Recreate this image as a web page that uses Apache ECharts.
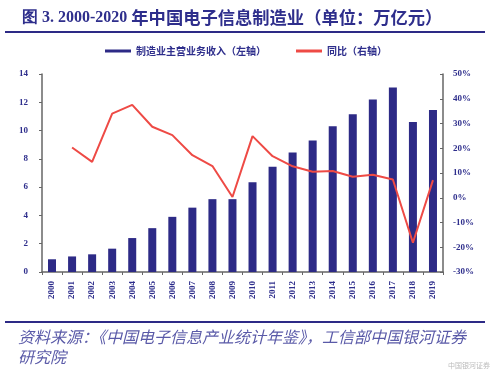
<!DOCTYPE html>
<html>
<head>
<meta charset="utf-8">
<script src="https://cdn.jsdelivr.net/npm/echarts@6/dist/echarts.min.js"></script>
<style>
  html, body { margin: 0; padding: 0; background: #fff; }
  #main { width: 500px; height: 375px; }
</style>
</head>
<body>
<div id="main"></div>
<script>
var years = ['2000', '2001', '2002', '2003', '2004', '2005', '2006', '2007', '2008', '2009',
    '2010', '2011', '2012', '2013', '2014', '2015', '2016', '2017', '2018', '2019'];
// 制造业主营业务收入（万亿元）
var revenue = [0.9, 1.1, 1.25, 1.65, 2.4, 3.1, 3.9, 4.55, 5.15, 5.15,
    6.35, 7.45, 8.45, 9.3, 10.3, 11.15, 12.2, 13.05, 10.6, 11.45];
// 同比（%）
var growth = [null, 20.3, 14.5, 34, 37.5, 28.7, 25.3, 17.2, 12.8, 0.3,
    24.9, 16.8, 12.7, 10.5, 10.8, 8.5, 9.3, 7.4, -18.2, 7.1];
var leftTicks = [0, 14, 2];
var rightTicks = [-30, 50, 10];

var navy = '#2d2a86';
var textColor = '#2e2e8c';
var cjk = '"Noto Sans CJK SC", "Liberation Serif", serif';
var serif = '"Liberation Serif", serif';

var myChart = echarts.init(document.getElementById('main'));
myChart.setOption({
    animation: false,
    textStyle: {fontFamily: cjk},
    title: {
        text: '{a|图 3. 2000-2020 }{b|年中国电子信息制造业（单位：万亿元）}',
        left: 17,
        top: 4,
        textStyle: {
            rich: {
                a: {color: textColor, fontSize: 16, fontWeight: 'bold', fontFamily: serif},
                b: {color: textColor, fontSize: 17.3, fontWeight: 'bold', fontFamily: cjk}
            }
        }
    },
    legend: {
        top: 41,
        left: 100,
        itemGap: 30,
        itemWidth: 26,
        itemHeight: 3,
        textStyle: {color: textColor, fontSize: 10, fontWeight: 'bold'},
        data: [
            {name: '制造业主营业务收入（左轴）', icon: 'rect'},
            {name: '同比（右轴）', icon: 'rect'}
        ]
    },
    graphic: [
        {type: 'line', shape: {x1: 5, y1: 32, x2: 485, y2: 32}, style: {stroke: navy, lineWidth: 2}},
        {type: 'line', shape: {x1: 5, y1: 322, x2: 485, y2: 322}, style: {stroke: navy, lineWidth: 2}},
        {
            type: 'text', left: 18, top: 327,
            style: {
                text: '资料来源：《中国电子信息产业统计年鉴》，工信部中国银河证券\n研究院',
                fill: '#5a5aa8', fontSize: 16, fontStyle: 'italic', lineHeight: 20,
                fontFamily: cjk
            }
        },
        {
            type: 'text', right: 10, top: 362,
            style: {text: '中国银河证券', fill: '#bbbbbb', fontSize: 7, fontFamily: cjk}
        }
    ],
    grid: {left: 42, right: 57, top: 74, bottom: 103},
    xAxis: {
        type: 'category',
        data: years,
        axisLine: {lineStyle: {color: '#666', width: 1.5}},
        axisTick: {show: true, length: 3, lineStyle: {color: '#666'}},
        axisLabel: {
            rotate: 90, interval: 0, color: textColor, fontSize: 9, fontWeight: 'bold',
            margin: 9, fontFamily: serif
        }
    },
    yAxis: [
        {
            type: 'value',
            min: leftTicks[0], max: leftTicks[1], interval: leftTicks[2],
            splitLine: {show: false},
            axisLine: {show: true, lineStyle: {color: '#666', width: 1.5}},
            axisTick: {show: true, length: 3, lineStyle: {color: '#666'}},
            axisLabel: {color: textColor, fontSize: 9, fontWeight: 'bold', margin: 14,
                fontFamily: serif}
        },
        {
            type: 'value',
            min: rightTicks[0], max: rightTicks[1], interval: rightTicks[2],
            splitLine: {show: false},
            axisLine: {show: true, lineStyle: {color: '#666', width: 1.5}},
            axisTick: {show: true, length: 3, inside: true, lineStyle: {color: '#666'}},
            axisLabel: {color: textColor, fontSize: 9, fontWeight: 'bold', margin: 10,
                formatter: '{value}%', fontFamily: serif}
        }
    ],
    series: [
        {
            name: '制造业主营业务收入（左轴）',
            type: 'bar',
            yAxisIndex: 0,
            barWidth: 8,
            itemStyle: {color: navy},
            data: revenue
        },
        {
            name: '同比（右轴）',
            type: 'line',
            yAxisIndex: 1,
            symbol: 'none',
            lineStyle: {color: '#ee4a45', width: 2},
            itemStyle: {color: '#ee4a45'},
            data: growth
        }
    ]
});
</script>
</body>
</html>
